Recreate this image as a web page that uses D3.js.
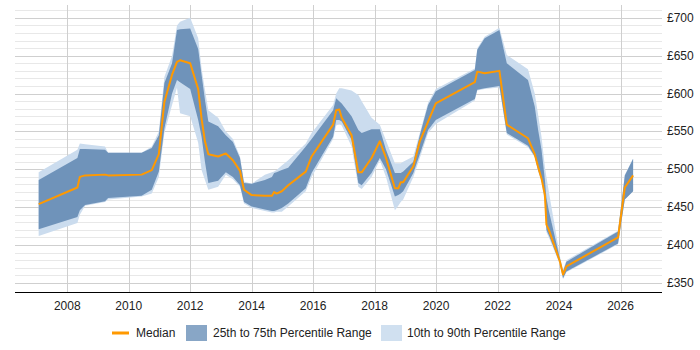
<!DOCTYPE html>
<html>
<head>
<meta charset="utf-8">
<script src="https://cdn.jsdelivr.net/npm/d3@7"></script>
<style>
  body { margin: 0; background: #fff; }
</style>
</head>
<body>
<div id="chart"></div>
<script>
// decimal years of each sample
const years = [2007.07, 2008.33, 2008.41, 2008.58, 2009.23, 2009.33, 2010.42, 2010.75, 2010.98, 2011.16,
  2011.41, 2011.57, 2011.67, 2012.0, 2012.26, 2012.37, 2012.48, 2012.59, 2012.91, 2013.16,
  2013.39, 2013.62, 2013.75, 2014.0, 2014.43, 2014.66, 2014.73, 2014.81, 2014.98, 2015.19,
  2015.76, 2015.95, 2016.65, 2016.75, 2016.85, 2016.93, 2017.25, 2017.47, 2017.58, 2017.90,
  2018.17, 2018.37, 2018.66, 2018.77, 2018.85, 2018.93, 2019.26, 2019.47, 2019.74, 2019.99,
  2021.26, 2021.34, 2021.58, 2022.06, 2022.30, 2022.99, 2023.21, 2023.32, 2023.43, 2023.54,
  2023.59, 2023.67, 2024.03, 2024.13, 2024.24, 2025.92, 2026.14, 2026.41];

const p10 = [412, 429, 440, 452, 457, 460, 464, 468, 490, 548,
  585, 608, 574, 570, 535, 499, 486, 473, 477, 493,
  487, 477, 455, 449, 445, 443, 443, 444, 444, 451,
  471, 490, 540, 558, 560, 558, 530, 477, 474, 490,
  512, 490, 446, 452, 457, 460, 490, 515, 548, 560,
  591, 604, 606, 608, 546, 529, 516, 497, 484, 455,
  417, 410, 374, 355, 364, 401, 460, 471];

const p25 = [421, 437, 446, 453, 458, 462, 465, 473, 497, 554,
  600, 618, 615, 606, 565, 543, 510, 482, 485, 496,
  490, 479, 457, 451, 447, 445, 445, 446, 449, 455,
  475, 495, 543, 565, 565, 563, 539, 482, 479, 495,
  515, 500, 464, 466, 468, 471, 495, 520, 552, 565,
  593, 605, 607, 610, 548, 531, 517, 499, 486, 462,
  420, 413, 376, 356, 365, 402, 460, 471];

const median = [454, 476, 490, 492, 493, 492, 493, 499, 520, 589,
  625, 642, 644, 640, 606, 567, 537, 520, 517, 521,
  512, 498, 473, 466, 465, 465, 470, 468, 471, 479,
  497, 517, 559, 578, 579, 568, 545, 496, 496, 515,
  537, 515, 475, 475, 483, 483, 504, 537, 563, 587,
  615, 629, 627, 630, 559, 541, 520, 503, 488, 466,
  427, 420, 378, 361, 372, 410, 476, 492];

const p75 = [486, 515, 527, 527, 526, 522, 522, 528, 545, 614,
  640, 684, 685, 686, 659, 625, 592, 563, 557, 545,
  536, 515, 482, 481, 486, 490, 495, 496, 499, 502,
  530, 540, 578, 594, 590, 587, 570, 552, 548, 553,
  553, 526, 495, 495, 495, 497, 510, 545, 585, 603,
  631, 658, 673, 684, 640, 618, 583, 552, 526, 486,
  462, 445, 382, 365, 378, 418, 492, 514];

const p90 = [496, 526, 534, 533, 530, 522, 522, 530, 550, 622,
  650, 690, 695, 700, 673, 633, 605, 578, 568, 550,
  540, 517, 484, 481, 493, 496, 497, 499, 505, 512,
  534, 548, 585, 600, 607, 607, 604, 598, 590, 568,
  559, 538, 508, 508, 508, 510, 517, 548, 588, 606,
  633, 660, 675, 687, 651, 632, 600, 572, 543, 503,
  490, 470, 385, 367, 380, 419, 493, 514];

const xTicks = [2008, 2010, 2012, 2014, 2016, 2018, 2020, 2022, 2024, 2026];
const yTicks = [350, 400, 450, 500, 550, 600, 650, 700];

const legendItems = ["Median", "25th to 75th Percentile Range", "10th to 90th Percentile Range"];

window.onload = function () {
  const width = 700;
  const height = 350;

  const colors = {
    median: "#ff9900",
    mid: "#6f93ba",
    midKey: "#88a6c6",
    outer: "#cbdcee",
    outerKey: "#d0e0f0"
  };

  const svg = d3.select("#chart")
    .append("svg")
    .attr("width", width)
    .attr("height", height)
    .style("font-family", "'Liberation Sans', Arial, sans-serif");

  const left = 15, right = 662, top = 5, bottom = 292;

  const x = d3.scaleLinear().domain([2006.3, 2027.35]).range([left, right]);
  const y = d3.scaleLinear().domain([338, 717]).range([bottom, top]);

  const rows = years.map((yr, i) => ({
    yr: yr, p10: p10[i], p25: p25[i], med: median[i], p75: p75[i], p90: p90[i]
  }));

  // grid: minor every 10, major every 50
  const grid = svg.append("g");
  const minor = d3.range(350, 711, 10);
  grid.selectAll("line.h")
    .data(minor)
    .join("line")
    .attr("x1", left)
    .attr("x2", right)
    .attr("y1", d => Math.round(y(d)) + 0.5)
    .attr("y2", d => Math.round(y(d)) + 0.5)
    .attr("stroke", d => d % 50 === 0 ? "#cfcfcf" : "#e8e8e8")
    .attr("stroke-width", 1);

  grid.selectAll("line.v")
    .data(xTicks)
    .join("line")
    .attr("x1", d => Math.round(x(d)) + 0.5)
    .attr("x2", d => Math.round(x(d)) + 0.5)
    .attr("y1", top)
    .attr("y2", bottom)
    .attr("stroke", "#cfcfcf");

  // bands
  const outerArea = d3.area()
    .x(d => x(d.yr))
    .y0(d => y(d.p10))
    .y1(d => y(d.p90));
  const midArea = d3.area()
    .x(d => x(d.yr))
    .y0(d => y(d.p25))
    .y1(d => y(d.p75));
  const medLine = d3.line()
    .x(d => x(d.yr))
    .y(d => y(d.med));

  svg.append("path").datum(rows).attr("d", outerArea).attr("fill", colors.outer);
  svg.append("path").datum(rows).attr("d", midArea).attr("fill", colors.mid);
  svg.append("path").datum(rows)
    .attr("d", medLine)
    .attr("fill", "none")
    .attr("stroke", colors.median)
    .attr("stroke-width", 2)
    .attr("stroke-linejoin", "round");

  // x axis
  svg.append("line")
    .attr("x1", left).attr("x2", right)
    .attr("y1", bottom + 0.5).attr("y2", bottom + 0.5)
    .attr("stroke", "#000");

  svg.append("g")
    .selectAll("text")
    .data(xTicks)
    .join("text")
    .attr("x", d => x(d))
    .attr("y", 310)
    .attr("text-anchor", "middle")
    .style("font-size", "12px")
    .style("fill", "#222")
    .text(d => d);

  // y labels on the right
  svg.append("g")
    .selectAll("text")
    .data(yTicks)
    .join("text")
    .attr("x", 667)
    .attr("y", d => y(d) + 4)
    .style("font-size", "12px")
    .style("fill", "#222")
    .text(d => "£" + d);

  // legend
  const lg = svg.append("g");
  const ly = 333;
  lg.append("line")
    .attr("x1", 112).attr("x2", 129)
    .attr("y1", ly).attr("y2", ly)
    .attr("stroke", colors.median)
    .attr("stroke-width", 3);
  lg.append("text").attr("x", 136).attr("y", ly + 4)
    .style("font-size", "12px").style("fill", "#222").text(legendItems[0]);

  lg.append("rect").attr("x", 186).attr("y", ly - 8).attr("width", 21).attr("height", 16)
    .attr("fill", colors.midKey);
  lg.append("text").attr("x", 213).attr("y", ly + 4)
    .style("font-size", "12px").style("fill", "#222").text(legendItems[1]);

  lg.append("rect").attr("x", 381).attr("y", ly - 8).attr("width", 21).attr("height", 16)
    .attr("fill", colors.outerKey);
  lg.append("text").attr("x", 407).attr("y", ly + 4)
    .style("font-size", "12px").style("fill", "#222").text(legendItems[2]);
};
</script>
</body>
</html>
